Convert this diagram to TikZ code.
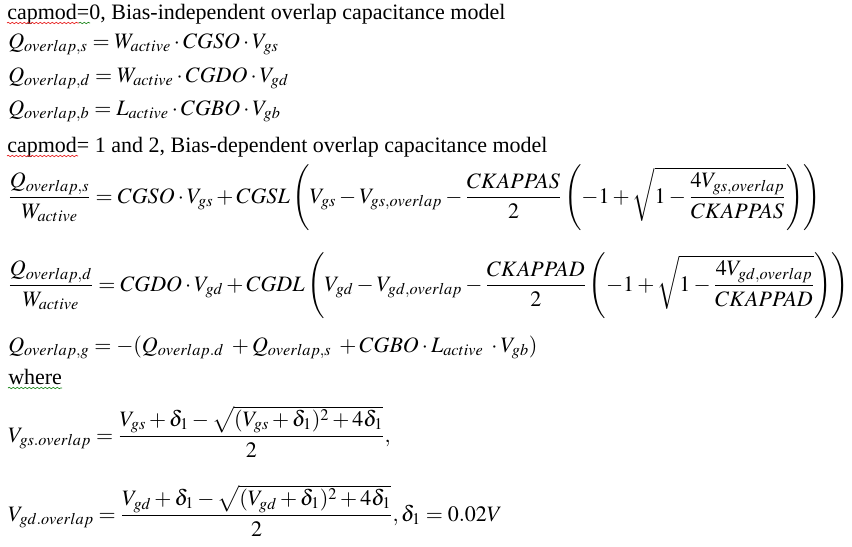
\documentclass[tikz,border=0pt]{standalone}
\usepackage{amsmath}
\usepackage{mathptmx}
\usepackage[no-math]{fontspec}
\setmainfont{Liberation Serif}
\usetikzlibrary{decorations.pathmorphing}

\definecolor{spellred}{RGB}{230,20,20}
\definecolor{spellgreen}{RGB}{20,130,20}

\tikzset{
    eqline/.style={anchor=base west, inner sep=0pt, font=\fontsize{16.5}{20}\selectfont},
    squiggle/.style={decorate, decoration={snake, amplitude=0.5pt, segment length=3pt}, line width=0.5pt},
}

\begin{document}
\begin{tikzpicture}[x=0.75pt, y=-0.75pt]
            \useasboundingbox (0,0) rectangle (852,546);

            \node[eqline] (cap0) at (7,19) {capmod=0, Bias-independent overlap capacitance model};
            \node[eqline] (qs) at (8,48) {$Q_{overlap,s}=W_{active}\cdot CGSO\cdot V_{gs}$};
            \node[eqline] (qd) at (8,82) {$Q_{overlap,d}=W_{active}\cdot CGDO\cdot V_{gd}$};
            \node[eqline] (qb) at (8,115) {$Q_{overlap,b}=L_{active}\cdot CGBO\cdot V_{gb}$};
            \node[eqline] (cap12) at (7,152) {capmod= 1 and 2, Bias-dependent overlap capacitance model};

            \node[eqline] (qsw) at (8,203) {$\dfrac{Q_{overlap,s}}{W_{active}}=CGSO\cdot V_{gs}+CGSL\left(V_{gs}-V_{gs,overlap}-\dfrac{CKAPPAS}{2}\left(-1+\sqrt{1-\dfrac{4V_{gs,overlap}}{CKAPPAS}}\right)\right)$};
            \node[eqline] (qdw) at (8,291) {$\dfrac{Q_{overlap,d}}{W_{active}}=CGDO\cdot V_{gd}+CGDL\left(V_{gd}-V_{gd,overlap}-\dfrac{CKAPPAD}{2}\left(-1+\sqrt{1-\dfrac{4V_{gd,overlap}}{CKAPPAD}}\right)\right)$};

            \node[eqline] (qg) at (8,352) {$Q_{overlap,g}=-(Q_{overlap.d}\;+Q_{overlap,s}\;+CGBO\cdot L_{active}\;\cdot V_{gb})$};
            \node[eqline] (where) at (8,384) {where};

            \node[eqline] (vgs) at (8,442) {$V_{gs.overlap}=\dfrac{V_{gs}+\delta_1-\sqrt{(V_{gs}+\delta_1)^2+4\delta_1}}{2},$};
            \node[eqline] (vgd) at (8,521) {$V_{gd.overlap}=\dfrac{V_{gd}+\delta_1-\sqrt{(V_{gd}+\delta_1)^2+4\delta_1}}{2},\delta_1=0.02V$};

            % spelling marks under the words
            \draw[squiggle, spellred] ([yshift=-3pt]cap0.base west) -- ++(72,0);
            \draw[squiggle, spellgreen] ([yshift=-3pt]cap0.base west) ++(72,0) -- ++(11,0);
            \draw[squiggle, spellred] ([yshift=-3pt]cap12.base west) -- ++(71,0);
            \draw[squiggle, spellgreen] ([yshift=-3pt]where.base west) -- ++(54,0);
\end{tikzpicture}
\end{document}
